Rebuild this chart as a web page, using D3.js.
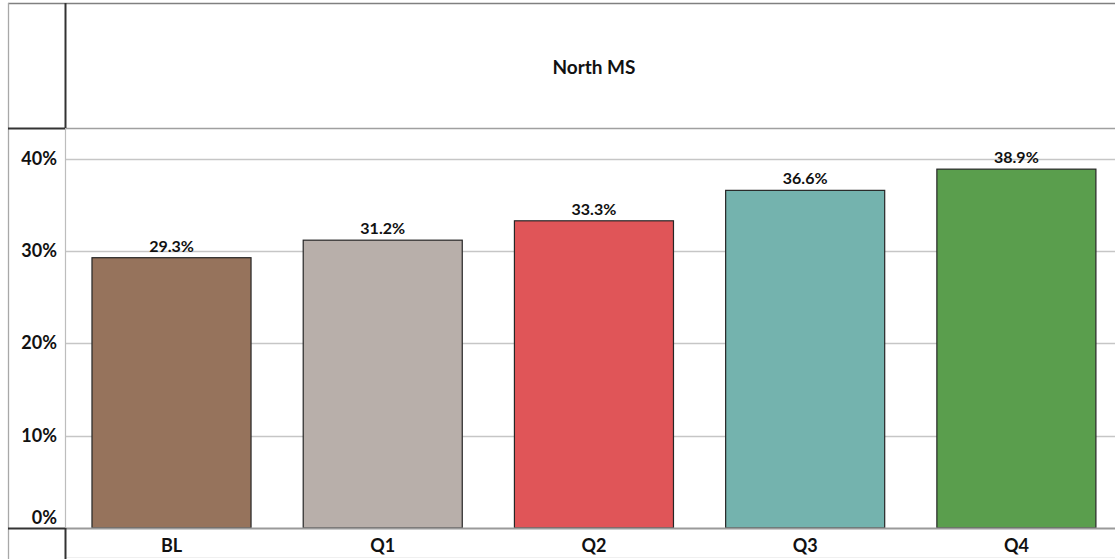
<!DOCTYPE html>
<html><head><meta charset="utf-8">
<script src="https://cdn.jsdelivr.net/npm/d3@7"></script>
<style>body{margin:0;background:#fff;overflow:hidden}svg{display:block}text{font-family:Lato,"Open Sans",sans-serif;font-weight:bold;fill:#111}</style>
</head><body><svg id="c" width="1115" height="559"></svg>
<script>
const categories = ["BL","Q1","Q2","Q3","Q4"];
const values = [0.293, 0.312, 0.333, 0.366, 0.389];
const valueLabels = ["29.3%","31.2%","33.3%","36.6%","38.9%"];
const colors = ["#96735C","#B8AFAA","#E05558","#74B3AE","#5A9E4D"];
const yTicks = [0, 0.1, 0.2, 0.3, 0.4];
const title = "North MS";

const svg = d3.select("#c");
const x = d3.scaleBand().domain(categories).range([65.9, 1122]).paddingInner(0.247).paddingOuter(0.1235);
const y = d3.scaleLinear().domain([0, 0.4336]).range([528, 128]);

// gridlines
svg.append("g").selectAll("line").data(yTicks.slice(1)).join("line")
  .attr("x1", 65).attr("x2", 1115).attr("y1", d => Math.round(y(d)) + 0.5).attr("y2", d => Math.round(y(d)) + 0.5)
  .attr("stroke", "#c6c6c6").attr("stroke-width", 1.3);

// frame lines
const L = (x1,y1,x2,y2,c,w) => svg.append("line").attr("x1",x1).attr("y1",y1).attr("x2",x2).attr("y2",y2).attr("stroke",c).attr("stroke-width",w);
L(8, 3.5, 1115, 3.5, "#808080", 1.6);
L(8.5, 3, 8.5, 559, "#a8a8a8", 1.3);
L(65, 128.5, 1115, 128.5, "#a0a0a0", 1.4);
L(65.5, 128, 65.5, 528, "#bdbdbd", 1.2);
L(65, 557.5, 1115, 557.5, "#f0f0f0", 1);

// bars
svg.append("g").selectAll("rect").data(values).join("rect")
  .attr("x", (d,i) => x(categories[i]))
  .attr("y", d => y(d))
  .attr("width", x.bandwidth())
  .attr("height", d => y(0) - y(d))
  .attr("fill", (d,i) => colors[i])
  .attr("stroke", "#262626").attr("stroke-width", 1.2);

// axis baseline
L(65, 528.5, 1115, 528.5, "#9a9a9a", 1.8);
// dark frame parts
L(8, 128.5, 65, 128.5, "#333", 2);
L(8, 528.5, 65, 528.5, "#333", 2);
L(65.5, 3, 65.5, 128, "#333", 2);
L(65.5, 528, 65.5, 559, "#333", 2);

// value labels
svg.append("g").selectAll("text").data(values).join("text")
  .attr("x", (d,i) => x(categories[i]) + x.bandwidth()/2)
  .attr("y", d => y(d) - 6)
  .attr("text-anchor", "middle").attr("font-size", 16)
  .text((d,i) => valueLabels[i]);

// y tick labels
svg.append("g").selectAll("text").data(yTicks).join("text")
  .attr("x", 57).attr("y", d => d === 0 ? 524 : y(d) + 6)
  .attr("text-anchor", "end").attr("font-size", 18)
  .text(d => d3.format(".0%")(d));

// x labels
svg.append("g").selectAll("text").data(categories).join("text")
  .attr("x", d => x(d) + x.bandwidth()/2).attr("y", 552)
  .attr("text-anchor", "middle").attr("font-size", 18)
  .text(d => d);

// title
svg.append("text").attr("x", (65.9+1122)/2).attr("y", 74).attr("text-anchor","middle").attr("font-size", 19).text(title);
</script></body></html>
